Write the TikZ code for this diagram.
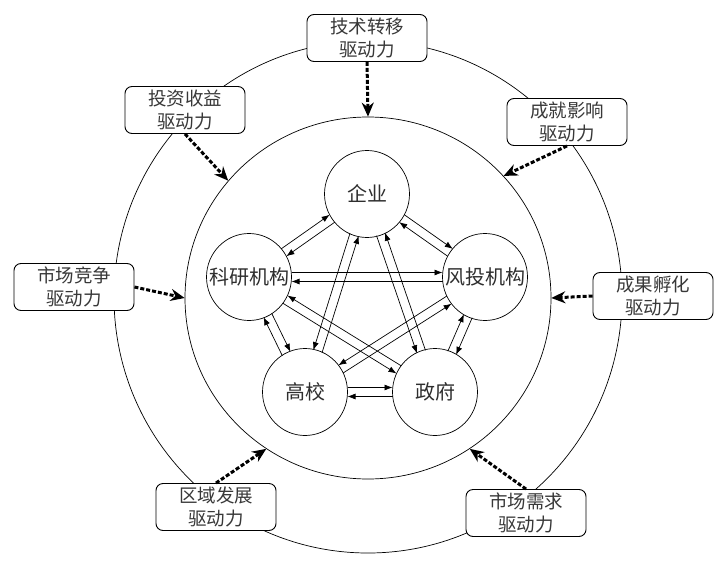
\documentclass[tikz,border=0pt]{standalone}
\usepackage{fontspec}
\newfontfamily\cjk{Noto Sans CJK SC}
\usetikzlibrary{arrows.meta,calc,shapes.geometric}
\newcommand\linkpair[4]{%
  \draw[link] ($(#1)!4.5pt!#3:(#2)$) -- ($(#2)!4.5pt!#4:(#1)$);
  \draw[link] ($(#2)!4.5pt!#3:(#1)$) -- ($(#1)!4.5pt!#4:(#2)$);
}
\newcommand\zw[1]{\makebox[0pt][c]{#1}}
\begin{document}
\begin{tikzpicture}[x=1pt,y=-1pt,
  txt/.style={font=\cjk\fontsize{18.5}{23}\selectfont, text=black!78},
  actor/.style={draw, ellipse, line width=0.7pt, minimum width=85pt, minimum height=87pt, inner sep=0pt,
    font=\cjk\fontsize{20}{24}\selectfont, text=black!82},
  drivebox/.style={draw, rounded corners=7pt, fill=white, minimum width=120pt, minimum height=47pt,
    align=center, inner sep=0pt, line width=0.9pt, txt},
  drivearrow/.style={-{Stealth[length=14pt,width=12pt]}, line width=3pt, dash pattern=on 4pt off 2pt},
  link/.style={-{Latex[length=8pt,width=6pt]}, line width=0.7pt, shorten <=42.5pt, shorten >=42.5pt},
  ring/.style={draw, ellipse, line width=0.7pt, inner sep=0pt}
]
\useasboundingbox (0,0) rectangle (727,564);
% rings
\node[ring, minimum width=508pt, minimum height=512pt] (outer) at (368,297) {};
\node[ring, minimum width=366pt, minimum height=362pt] (inner) at (368,298) {};
% actors
\node[actor] (qiye) at (367,194) {\zw{企业}};
\node[actor] (keyan) at (249,277) {\zw{科研机构}};
\node[actor] (fengtou) at (485,277) {\zw{风投机构}};
\node[actor] (gaoxiao) at (305,392) {\zw{高校}};
\node[actor] (zhengfu) at (435,392) {\zw{政府}};
% links
\linkpair{qiye}{keyan}{90}{-90}
\linkpair{qiye}{fengtou}{90}{-90}
\linkpair{qiye}{gaoxiao}{-90}{90}
\linkpair{qiye}{zhengfu}{-90}{90}
\linkpair{keyan}{fengtou}{90}{-90}
\linkpair{keyan}{gaoxiao}{90}{-90}
\linkpair{keyan}{zhengfu}{-90}{90}
\linkpair{fengtou}{gaoxiao}{-90}{90}
\linkpair{fengtou}{zhengfu}{90}{-90}
\linkpair{gaoxiao}{zhengfu}{90}{-90}
% driver boxes
\node[drivebox] (b1) at (367,38) {技术转移\\驱动力};
\node[drivebox] (b2) at (185,110) {投资收益\\驱动力};
\node[drivebox] (b3) at (567,122) {成就影响\\驱动力};
\node[drivebox] (b4) at (74,287) {市场竞争\\驱动力};
\node[drivebox] (b5) at (653,296) {成果孵化\\驱动力};
\node[drivebox] (b6) at (216,507) {区域发展\\驱动力};
\node[drivebox] (b7) at (526,513) {市场需求\\驱动力};
% driver arrows
\draw[drivearrow] (b1.south) -- (inner.90);
\draw[drivearrow] (b2.south) -- (inner.140);
\draw[drivearrow] (b3.south) -- (inner.42);
\draw[drivearrow] (b4.east) -- (inner.180);
\draw[drivearrow] (b5.west) -- (inner.0);
\draw[drivearrow] (b6.north) -- (inner.236);
\draw[drivearrow] (b7.north) -- (inner.304);
\end{tikzpicture}
\end{document}
